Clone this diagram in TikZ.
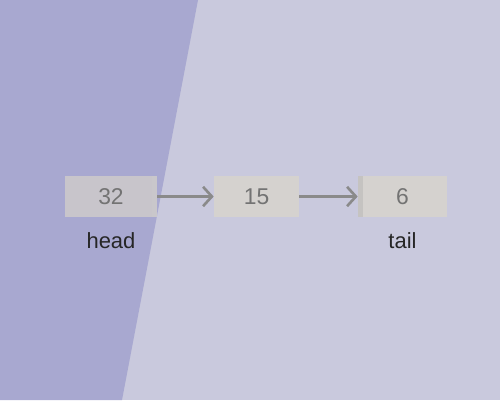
\documentclass[tikz,border=0pt]{standalone}
\usepackage{fontspec}
\setmainfont{Liberation Sans}
\usetikzlibrary{arrows.meta,positioning}
\definecolor{bgdark}{HTML}{A8A8D0}
\definecolor{bglight}{HTML}{C9C9DD}
\definecolor{cellfill}{HTML}{D5D2CF}
\definecolor{cellshade}{HTML}{C8C5CB}
\definecolor{linkgray}{HTML}{8A8A8A}
\tikzset{
    cell/.style={draw=none, fill=cellfill, minimum width=1.8cm, minimum height=0.82cm, inner sep=0pt, text=black!55, font=\fontsize{13}{15}\selectfont},
    link/.style={draw=linkgray, line width=1.5pt, -{Straight Barb[length=5pt,width=11pt,line width=1.5pt]}},
    tag/.style={text=black!85, font=\fontsize{12.5}{15}\selectfont}
}
\begin{document}
\begin{tikzpicture}[x=0.02cm,y=-0.02cm]
    	\fill[bglight] (0,0) rectangle (500,400);
    	\fill[bgdark] (0,0) -- (198,0) -- (122,400) -- (0,400) -- cycle;
    	\useasboundingbox (0,0) rectangle (500,400);
    	\node[cell, fill=cellshade, minimum width=1.84cm] (n32) at (111,196.5) {32};
    	\fill[black!20, opacity=.35] (152,176) rectangle (157,217);
    	\node[cell, minimum width=1.7cm] (n15) at (256.5,196.5) {15};
    	\node[cell, minimum width=1.78cm] (n6) at (402.5,196.5) {6};
    	\fill[black!30, opacity=.45] (358,176) rectangle (363,217);
    	\draw[link] (n32) -- (n15);
    	\draw[link] (n15) -- (n6);
    	\node[tag, below=5pt of n32] (head) {head};
    	\node[tag, below=5pt of n6] (tail) {tail};
    	\end{tikzpicture}
\end{document}
